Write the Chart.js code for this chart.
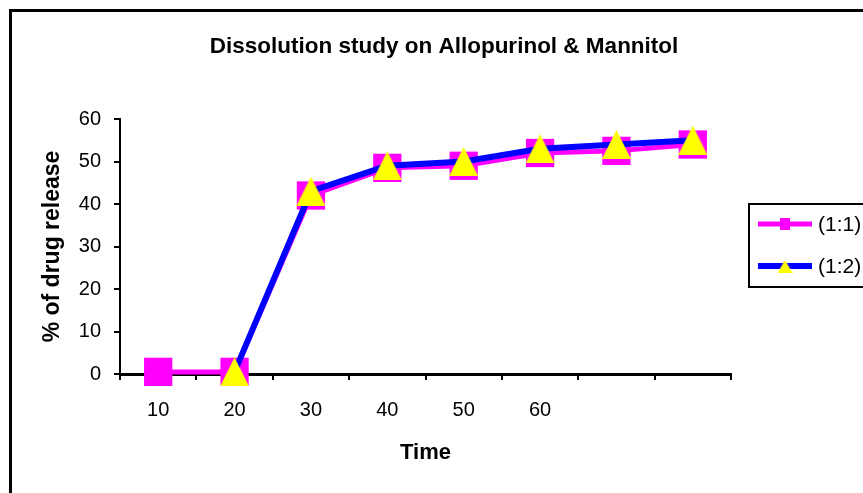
<!DOCTYPE html>
<html>
<head>
<meta charset="utf-8">
<title>Dissolution study</title>
<script src="https://cdn.jsdelivr.net/npm/chart.js@4.4.1/dist/chart.umd.min.js"></script>
<style>
  html, body { margin: 0; padding: 0; background: #fff; overflow: hidden; }
  #frame { position: absolute; left: 9px; top: 9px; width: 900px; height: 520px;
           border-left: 3px solid #000; border-top: 3px solid #000; }
  #chart { position: absolute; left: 0; top: 0; }
</style>
</head>
<body>
<div id="frame"></div>
<canvas id="chart" width="888" height="493"></canvas>
<script>
// sampling times (last two slots have no label)
const timeLabels = ['10', '20', '30', '40', '50', '60', '', ''];
// % drug released
const release11 = [0.5, 0.5, 42, 48.5, 49, 52, 52.5, 54];
const release12 = [null, 0.5, 43, 49, 50, 53, 54, 55];
const seriesNames = ['(1:1)', '(1:2)'];
const yMin = 0, yMax = 60, yStep = 10;

const fontFamily = '"Liberation Sans", Arial, sans-serif';
const magenta = '#ff00ff';
const blue = '#0000ff';
const yellow = '#ffff00';

function triangleMarker(w, h) {
    const c = document.createElement('canvas');
    c.width = w;
    c.height = h;
    const g = c.getContext('2d');
    g.fillStyle = yellow;
    g.beginPath();
    g.moveTo(w / 2, 0);
    g.lineTo(w, h);
    g.lineTo(0, h);
    g.closePath();
    g.fill();
    return c;
}

const bigTriangle = triangleMarker(29, 29);
const smallTriangle = triangleMarker(15, 13);

// boxed legend on the right, partly running off the page
const boxLegend = {
    id: 'boxLegend',
    afterDraw(chart) {
        const ctx = chart.ctx;
        ctx.save();
        ctx.fillStyle = '#fff';
        ctx.strokeStyle = '#000';
        ctx.lineWidth = 2;
        ctx.fillRect(749, 204, 140, 83);
        ctx.strokeRect(749, 204, 140, 83);
        chart.data.datasets.forEach((ds, i) => {
            const y = 224 + i * 42;
            ctx.strokeStyle = ds.borderColor;
            ctx.lineWidth = ds.borderWidth;
            ctx.beginPath();
            ctx.moveTo(758, y);
            ctx.lineTo(812, y);
            ctx.stroke();
            if (ds.pointStyle === 'rect') {
                ctx.fillStyle = ds.pointBackgroundColor;
                ctx.fillRect(780, y - 6, 10, 12);
            } else {
                ctx.drawImage(smallTriangle, 785 - 7.5, y - 6);
            }
            ctx.fillStyle = '#000';
            ctx.font = '21px ' + fontFamily;
            ctx.textBaseline = 'middle';
            ctx.textAlign = 'left';
            ctx.fillText(ds.label, 818, y + 1);
        });
        ctx.restore();
    }
};

new Chart(document.getElementById('chart').getContext('2d'), {
    type: 'line',
    data: {
        labels: timeLabels,
        datasets: [
            {
                label: seriesNames[0],
                data: release11,
                order: 1,
                clip: false,
                borderColor: magenta,
                borderWidth: 5,
                tension: 0,
                pointStyle: 'rect',
                pointRadius: 20,
                pointBackgroundColor: magenta,
                pointBorderColor: magenta,
                pointBorderWidth: 0
            },
            {
                label: seriesNames[1],
                data: release12,
                order: 0,
                clip: false,
                borderColor: blue,
                borderWidth: 6,
                tension: 0,
                pointStyle: bigTriangle,
                pointRadius: 14,
                pointBorderWidth: 0
            }
        ]
    },
    options: {
        responsive: false,
        animation: false,
        devicePixelRatio: 1,
        layout: { padding: { left: 0, right: 0, top: 0, bottom: 10 } },
        scales: {
            x: {
                type: 'category',
                offset: true,
                grid: { drawOnChartArea: false, offset: true, tickLength: 6, color: '#000', lineWidth: 2 },
                border: { color: '#000', width: 3 },
                ticks: { color: '#000', font: { family: fontFamily, size: 20 }, padding: 18, maxRotation: 0, autoSkip: false },
                title: {
                    display: true, text: 'Time', color: '#000',
                    font: { family: fontFamily, size: 22, weight: 'bold' },
                    padding: { top: 0, bottom: 17 }
                },
                afterFit(scale) { scale.height = 109; }
            },
            y: {
                min: yMin,
                max: yMax,
                ticks: { stepSize: yStep, color: '#000', font: { family: fontFamily, size: 20 }, padding: 13 },
                grid: { drawOnChartArea: false, tickLength: 6, color: '#000', lineWidth: 2 },
                border: { color: '#000', width: 2 },
                title: {
                    display: true, text: '% of drug release', color: '#000',
                    font: { family: fontFamily, size: 23, weight: 'bold' },
                    padding: { top: 39, bottom: 0 }
                },
                afterFit(scale) { scale.width = 120; }
            },
            // empty right-hand strip that leaves room for the legend box
            legendSpace: {
                position: 'right',
                display: true,
                grid: { display: false },
                border: { display: false },
                ticks: { display: false },
                afterFit(scale) { scale.width = 157; }
            }
        },
        plugins: {
            legend: { display: false },
            tooltip: { enabled: false },
            title: {
                display: true,
                text: 'Dissolution study on Allopurinol & Mannitol',
                color: '#000',
                font: { family: fontFamily, size: 22.5, weight: 'bold' },
                padding: { top: 33.5, bottom: 58.5 }
            }
        }
    },
    plugins: [boxLegend]
});
</script>
</body>
</html>
